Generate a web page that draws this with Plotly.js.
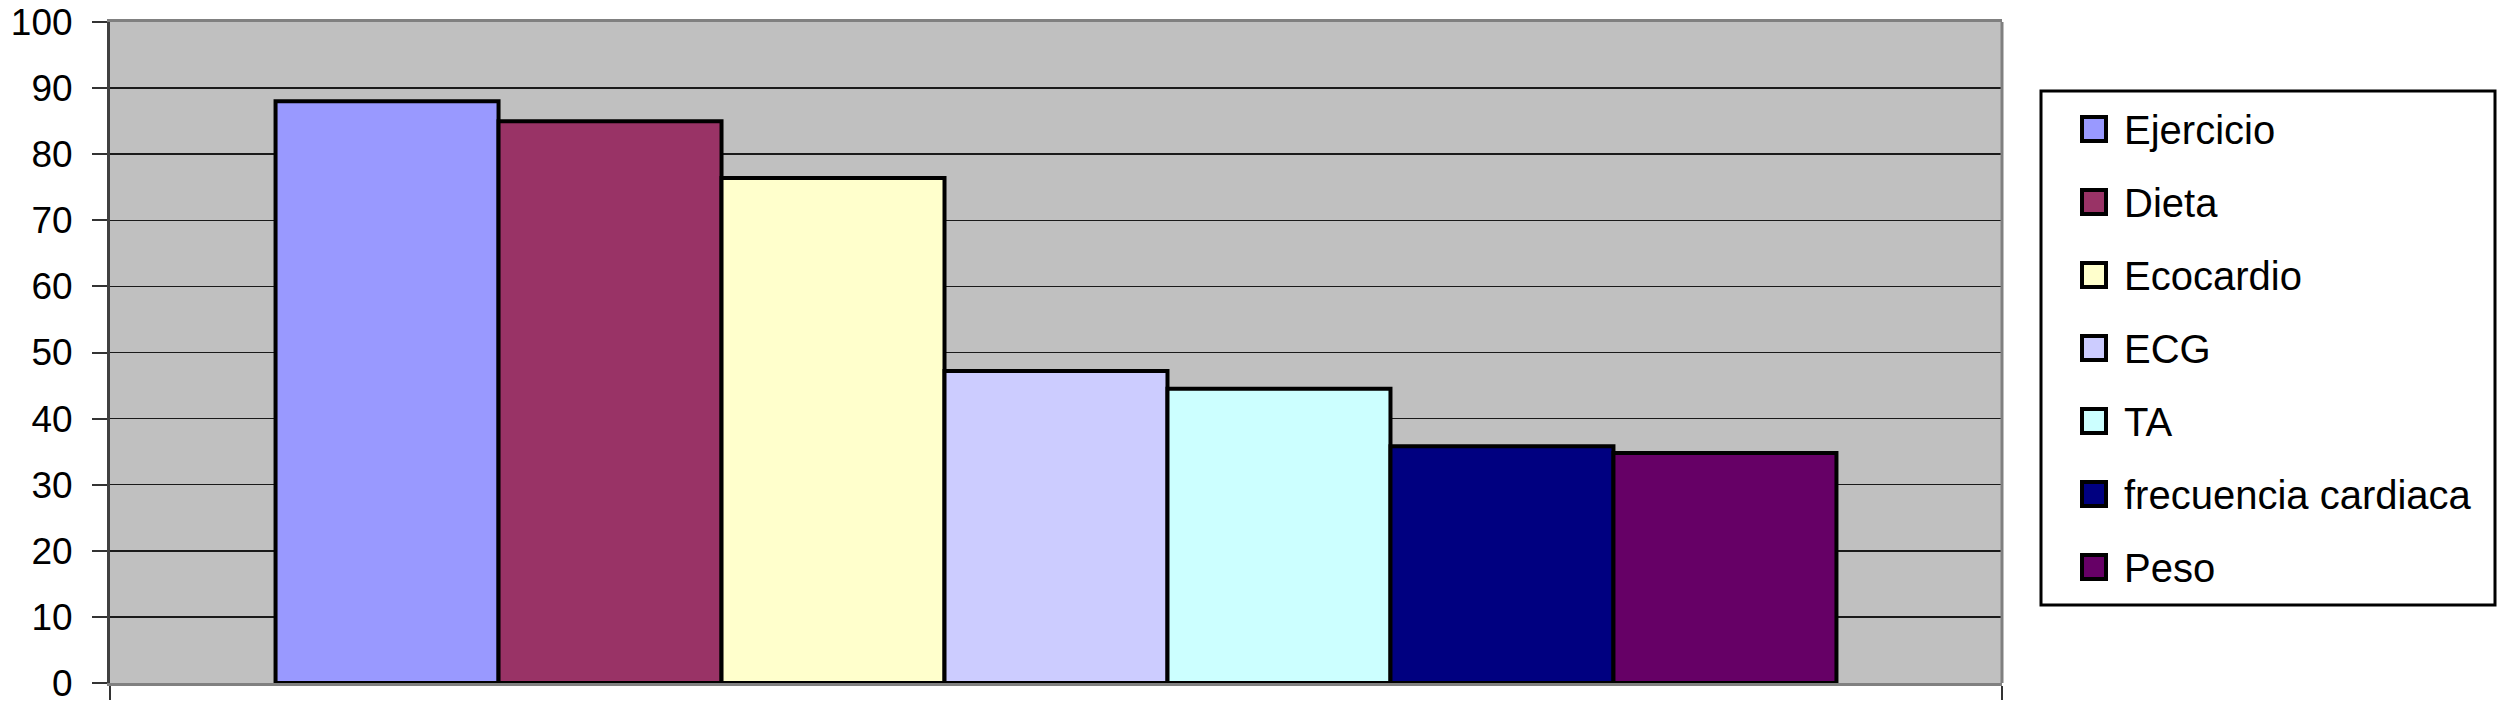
<!DOCTYPE html>
<html>
<head>
<meta charset="utf-8">
<script src="https://cdn.plot.ly/plotly-3.0.1.min.js"></script>
<style>
  html, body { margin: 0; padding: 0; background: #fff; }
  #plot { width: 2498px; height: 706px; }
</style>
</head>
<body>
<div id="plot"></div>
<script>
const categories = ['Ejercicio', 'Dieta', 'Ecocardio', 'ECG', 'TA', 'frecuencia cardiaca', 'Peso'];
const values = [88.0, 85.0, 76.4, 47.2, 44.5, 35.8, 34.8];
const colors = ['#9999FF', '#993366', '#FFFFCC', '#CCCCFF', '#CCFFFF', '#000080', '#660066'];
const yTicks = [0, 10, 20, 30, 40, 50, 60, 70, 80, 90, 100];

const font = 'Liberation Sans, Arial, sans-serif';

const W = 2498, H = 706;
const margin = { l: 110, r: 496, t: 22, b: 23 };
const plotW = W - margin.l - margin.r;
const plotH = H - margin.t - margin.b;

// pixel -> paper coords, for the Excel-style legend box on the right
function px2x(px) { return (px - margin.l) / plotW; }
function px2y(py) { return (H - margin.b - py) / plotH; }

// one category, one trace per item (Excel "series in columns" look)
const traces = categories.map((name, i) => ({
  type: 'bar',
  x: ['grupo'],
  y: [values[i]],
  name: name,
  marker: { color: colors[i], line: { color: '#000', width: 4 } },
  hoverinfo: 'name+y',
  showlegend: false
}));

// legend drawn by hand: plotly's bar swatches are too small to match
const legendShapes = [{
  type: 'rect', xref: 'paper', yref: 'paper',
  x0: px2x(2041), x1: px2x(2495), y0: px2y(605), y1: px2y(91),
  line: { color: '#000', width: 3 }, fillcolor: '#fff'
}];
const legendNotes = [];
const rowTop = 129, rowStep = 73;

categories.forEach((name, i) => {
  const cy = rowTop + i * rowStep;
  legendShapes.push({
    type: 'rect', xref: 'paper', yref: 'paper',
    x0: px2x(2082), x1: px2x(2106), y0: px2y(cy + 12), y1: px2y(cy - 12),
    line: { color: '#000', width: 4 }, fillcolor: colors[i]
  });
  legendNotes.push({
    xref: 'paper', yref: 'paper',
    x: px2x(2122), y: px2y(cy + 1),
    xanchor: 'left', yanchor: 'middle',
    text: name, showarrow: false,
    font: { family: font, size: 40, color: '#000' }
  });
});

const layout = {
  width: W,
  height: H,
  margin: margin,
  paper_bgcolor: '#fff',
  plot_bgcolor: '#C0C0C0',
  barmode: 'group',
  bargap: 0.175,
  bargroupgap: 0,
  font: { family: font, size: 37, color: '#000' },
  showlegend: false,
  xaxis: {
    type: 'category',
    range: [-0.5, 0.5],
    showticklabels: false,
    tickson: 'boundaries',
    ticks: 'outside',
    ticklen: 14,
    tickwidth: 2,
    tickcolor: '#333',
    showgrid: false,
    showline: true,
    linecolor: '#808080',
    linewidth: 3,
    mirror: true,
    fixedrange: true
  },
  yaxis: {
    range: [0, 100],
    tickvals: yTicks,
    ticktext: yTicks.map(String),
    ticks: 'outside',
    ticklen: 15,
    tickwidth: 2,
    tickcolor: '#333',
    ticklabelstandoff: 12,
    tickfont: { family: font, size: 37, color: '#000' },
    showgrid: true,
    gridcolor: '#1a1a1a',
    gridwidth: 1.5,
    zeroline: false,
    showline: true,
    linecolor: '#404040',
    linewidth: 3,
    fixedrange: true
  },
  shapes: [
    // right edge of the plot area
    { type: 'line', xref: 'paper', yref: 'paper', x0: 1, x1: 1, y0: 0, y1: 1,
      line: { color: '#808080', width: 3 } }
  ].concat(legendShapes),
  annotations: legendNotes
};

Plotly.newPlot('plot', traces, layout, { displayModeBar: false, staticPlot: true });
</script>
</body>
</html>
